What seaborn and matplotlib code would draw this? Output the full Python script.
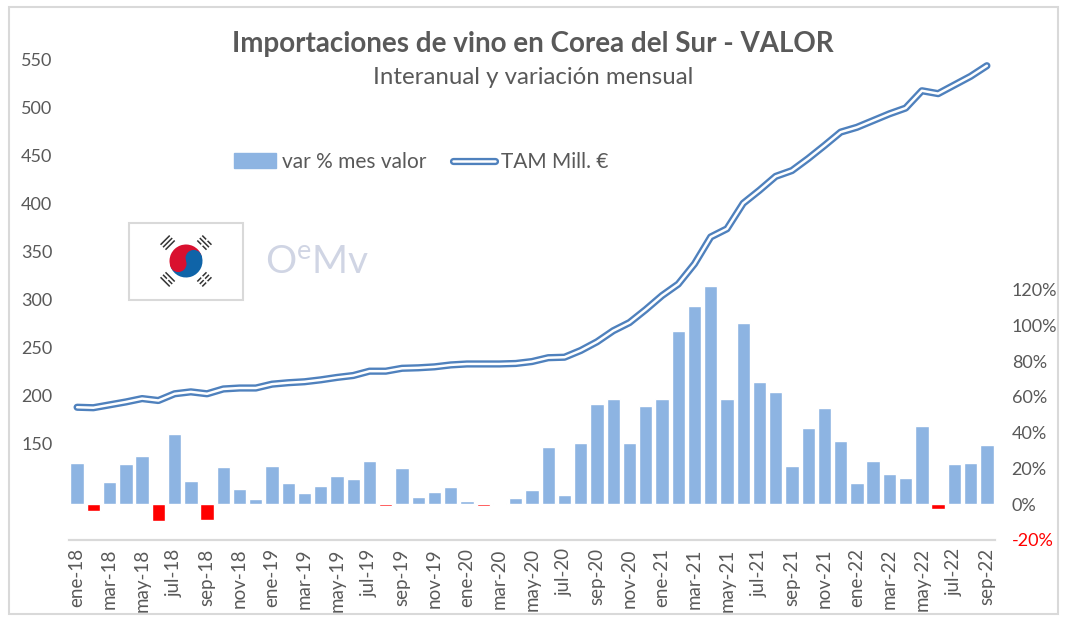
"""Importaciones de vino en Corea del Sur: TAM and monthly variation."""
import numpy as np
import pandas as pd
import matplotlib.pyplot as plt
import matplotlib.patches as mpatches
import matplotlib.patheffects as pe
from matplotlib.lines import Line2D
import seaborn as sns

years = ["18", "19", "20", "21", "22"]
month_names = ["ene", "feb", "mar", "abr", "may", "jun", "jul", "ago", "sep", "oct", "nov", "dic"]
months = [f"{m}-{y}" for y in years for m in month_names][:57]

var_pct = [23.2, -4, 12.5, 22.6, 27, -9.6, 39, 13, -9, 21, 8.5, 2.8,
           21.5, 11.9, 6.2, 10.2, 15.8, 14.2, 24.3, -0.9, 20.4, 4, 6.8, 9.6,
           1.7, -0.9, 0.7, 3.4, 7.9, 31.8, 5, 34, 55.8, 59, 34, 54.7,
           58.6, 96.6, 110.5, 122, 58.6, 101.5, 68.5, 62.8, 21.5, 42.8, 53.5, 35.5,
           11.7, 24.3, 17, 14.8, 43.8, -2.5, 22.5, 23.2, 32.8]
tam = [188, 187.5, 190.5, 193.5, 197, 195, 202, 204, 202, 207, 208, 208,
       212, 213.5, 214.5, 216.5, 219, 221, 225.5, 225.5, 228.5, 229, 230, 232,
       233, 233, 233, 233.5, 235.5, 239.5, 240, 247, 256, 267.5, 276, 289.5,
       304, 316, 337, 365, 373.5, 400, 413.5, 428, 434, 446.5, 460, 474,
       479, 486, 493, 499, 517, 514, 523, 532, 543]

left_ticks = [150, 200, 250, 300, 350, 400, 450, 500, 550]
right_ticks = [-20, 0, 20, 40, 60, 80, 100, 120]

BLUE_BAR = "#8DB4E2"
RED = "#FF0000"
LINE = "#4F81BD"
TEXT = "#595959"
GRID = "#D9D9D9"
LOGO = "#D0D5E4"

sns.set_theme(style="white")
plt.rcParams["font.family"] = ["Lato", "DejaVu Sans"]
plt.rcParams["mathtext.default"] = "regular"

W, H = 1067, 624
fig = plt.figure(figsize=(W / 100, H / 100), dpi=100, facecolor="white")

# chart frame
fig.add_artist(mpatches.Rectangle((9 / W, 1 - 614 / H), 1049 / W, 607 / H, transform=fig.transFigure,
                                  fill=False, ec=GRID, lw=1.5))

px_left, px_right, px_top, px_bottom = 69, 995, 59, 540
ax = fig.add_axes([px_left / W, 1 - px_bottom / H, (px_right - px_left) / W, (px_bottom - px_top) / H])
ax.patch.set_alpha(0)
ax2 = ax.twinx()
ax.set_zorder(ax2.get_zorder() + 1)

df = pd.DataFrame({"mes": months, "var": var_pct, "tam": tam})
df["signo"] = np.where(df["var"] < 0, "neg", "pos")

# bars on the right axis
sns.barplot(data=df, x="mes", y="var", hue="signo", dodge=False, ax=ax2, width=0.82, legend=False,
            palette={"pos": BLUE_BAR, "neg": RED}, order=months, saturation=1)
ax2.set_ylim(-20, 20 + (540 - 59) / 1.79 - 40)
ax2.set_yticks(right_ticks)
ax2.set_yticklabels([f"{t}%" for t in right_ticks], fontsize=13, color=TEXT)
ax2.get_yticklabels()[0].set_color(RED)
ax2.set_ylabel("")
ax2.tick_params(axis="y", length=0, pad=12)

# TAM line on the left axis, double stroke
double_stroke = [pe.Stroke(linewidth=5.2, foreground=LINE), pe.Normal()]
sns.lineplot(data=df, x="mes", y="tam", ax=ax, color="white", lw=1.8, sort=False, errorbar=None,
             path_effects=double_stroke, solid_joinstyle="round", solid_capstyle="round")
ax.set_ylim(50, 550)
ax.set_xlim(-0.5, 56.5)
ax.set_yticks(left_ticks)
ax.set_yticklabels([str(t) for t in left_ticks], fontsize=13, color=TEXT)
ax.tick_params(axis="y", length=0, pad=12)
ax.set_xlabel("")
ax.set_ylabel("")
ax.set_xticks(range(0, 57, 2))
ax.set_xticklabels(months[::2], rotation=90, fontsize=13.5, color=TEXT)
ax.tick_params(axis="x", length=0, pad=6)
ax2.set_xlabel("")

for a in (ax, ax2):
    for name, spine in a.spines.items():
        spine.set_visible(name == "bottom")
        spine.set_color(GRID)
        spine.set_linewidth(1.5)

fig.text(533 / W, 1 - 44 / H, "Importaciones de vino en Corea del Sur - VALOR", ha="center", va="center",
         fontsize=20, fontweight="bold", color=TEXT)
fig.text(533 / W, 1 - 78 / H, "Interanual y variación mensual", ha="center", va="center",
         fontsize=17.3, color=TEXT)

handles = [mpatches.Patch(color=BLUE_BAR),
           Line2D([], [], color="white", lw=1.8, path_effects=double_stroke)]
fig.legend(handles, ["var % mes valor", "TAM Mill. €"], ncol=2, frameon=False, fontsize=15, labelcolor=TEXT,
           loc="center left", bbox_to_anchor=(234 / W, 1 - 162 / H), handlelength=2.0, handletextpad=0.3,
           columnspacing=1.3, borderaxespad=0, borderpad=0)

# flag card and logo, in pixel coordinates
deco = fig.add_axes([0, 0, 1, 1], zorder=5)
deco.set_xlim(0, W)
deco.set_ylim(H, 0)
deco.axis("off")
deco.patch.set_alpha(0)
deco.add_patch(mpatches.Rectangle((129, 223), 114, 77, fc="white", ec=GRID, lw=1.5))
cx, cy, r = 186, 261, 16.5
deco.add_patch(mpatches.Wedge((cx, cy), r, 340, 160, fc="#0F64A8", ec="none"))
deco.add_patch(mpatches.Wedge((cx, cy), r, 160, 340, fc="#D9102F", ec="none"))
dx, dy = r / 2 * np.cos(np.radians(20)), r / 2 * np.sin(np.radians(20))
deco.add_patch(mpatches.Circle((cx + dx, cy - dy), r / 2, fc="#0F64A8", ec="none"))
deco.add_patch(mpatches.Circle((cx - dx, cy + dy), r / 2, fc="#D9102F", ec="none"))
# trigrams: angle in the flag -> which of the three strokes are broken
trigrams = {225: (False, False, False), 315: (True, False, True),
            135: (False, True, False), 45: (True, True, True)}
for ang, broken in trigrams.items():
    c, s = np.cos(np.radians(ang)), np.sin(np.radians(ang))
    for off, is_broken in zip((22.5, 26, 29.5), broken):
        bx, by = cx + off * c, cy + off * s
        deco.plot([bx - 6.5 * s, bx + 6.5 * s], [by + 6.5 * c, by - 6.5 * c], color="#333333", lw=1.1,
                  solid_capstyle="butt")
        if is_broken:
            deco.plot([bx - s, bx + s], [by + c, by - c], color="white", lw=1.8, solid_capstyle="butt")
deco.text(265, 262, r"O$^{e}$Mv", fontsize=28, color=LOGO, ha="left", va="center")

fig.savefig("out.png", dpi=100)
